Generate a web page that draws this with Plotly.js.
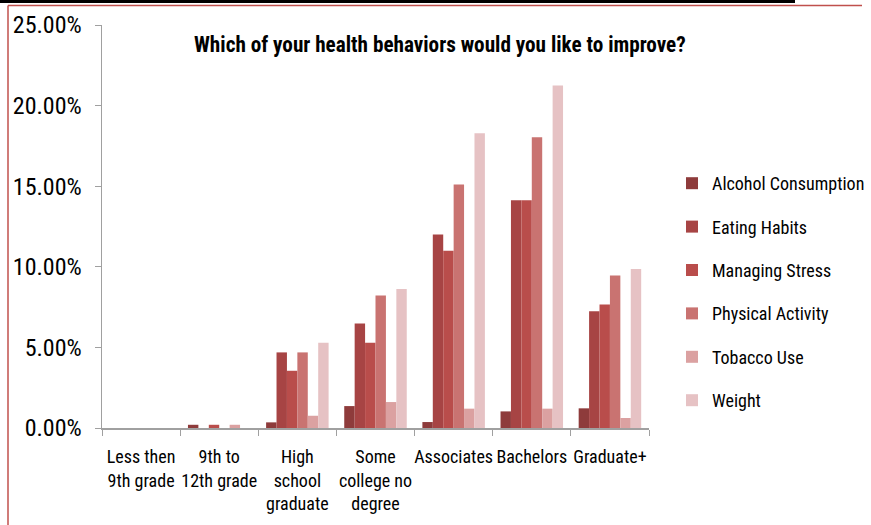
<!DOCTYPE html>
<html>
<head>
<meta charset="utf-8">
<script src="https://cdn.plot.ly/plotly-3.0.1.min.js"></script>
<style>html,body{margin:0;padding:0;background:#fff;}#chart{width:871px;height:525px;}</style>
</head>
<body>
<div id="chart"></div>
<script>
var categories = ["Less then<br>9th grade", "9th to<br>12th grade", "High<br>school<br>graduate", "Some<br>college no<br>degree", "Associates", "Bachelors", "Graduate+"];
var seriesNames = ["Alcohol Consumption", "Eating Habits", "Managing Stress", "Physical Activity", "Tobacco Use", "Weight"];
var alcohol  = [0, 0.0020, 0.0035, 0.0136, 0.0037, 0.0103, 0.0122];
var eating   = [0, 0, 0.0469, 0.0649, 0.1200, 0.1413, 0.0725];
var stress   = [0, 0.0020, 0.0355, 0.0529, 0.1100, 0.1413, 0.0766];
var physical = [0, 0, 0.0469, 0.0822, 0.1510, 0.1803, 0.0946];
var tobacco  = [0, 0.0020, 0.0076, 0.0161, 0.0120, 0.0120, 0.0062];
var weight   = [0, 0, 0.0529, 0.0863, 0.1828, 0.2125, 0.0987];
var colors = ["#8e3b3b", "#a74444", "#b94d4b", "#c97371", "#dba1a1", "#e6c2c4"];
var values = [alcohol, eating, stress, physical, tobacco, weight];

var FONT = "'Liberation Sans Narrow', 'Arial Narrow', 'Roboto Condensed', 'Liberation Sans', sans-serif";

var traces = values.map(function(v, i){
  return {
    type: "bar", x: categories, y: v, name: seriesNames[i],
    legendgroup: "g" + i,
    marker: {color: colors[i], line: {width: 0}},
    hoverinfo: "none"
  };
});

var L = 102, R = 222, T = 25, B = 97, W = 871, H = 525;
var pw = W - L - R, ph = H - T - B;
function px(x){ return (x - L) / pw; }
function py(y){ return (H - B - y) / ph; }

var layout = {
  width: W, height: H,
  margin: {l: L, r: R, t: T, b: B, pad: 0, autoexpand: false},
  paper_bgcolor: "#fff", plot_bgcolor: "#fff",
  font: {family: FONT, color: "#000", size: 18},
  title: {text: "<b>Which of your health behaviors would you like to improve?</b>",
          font: {family: FONT, size: 21.2, color: "#000"},
          x: 0.505, xref: "container", xanchor: "center",
          y: 1 - 45/525, yref: "container", yanchor: "middle"},
  barmode: "group", bargap: 0.2, bargroupgap: 0,
  showlegend: true,
  legend: {x: px(672), xanchor: "left", y: py(292), yanchor: "middle",
           font: {family: FONT, size: 18, color: "#000"},
           tracegroupgap: 17, bgcolor: "rgba(0,0,0,0)"},
  xaxis: {type: "category", tickson: "boundaries", ticks: "outside", ticklen: 6,
          tickcolor: "#a0a0a0", showline: true, linecolor: "#a0a0a0", linewidth: 1.5,
          showgrid: false, zeroline: false, tickangle: 0, ticklabelstandoff: 12,
          tickfont: {family: FONT, size: 18, color: "#000"}},
  yaxis: {range: [0, 0.25], dtick: 0.05, tick0: 0, tickformat: ".2%",
          ticks: "outside", ticklen: 6, tickcolor: "#a0a0a0",
          showline: true, linecolor: "#a0a0a0", linewidth: 1.5,
          showgrid: false, zeroline: false, ticklabelstandoff: 8,
          tickfont: {family: FONT, size: 24, color: "#000"}},
  shapes: [
    {type: "rect", xref: "paper", yref: "paper", x0: px(0), x1: px(795), y0: py(0), y1: py(3),
     fillcolor: "#000", line: {width: 0}},
    {type: "line", xref: "paper", yref: "paper", x0: px(8), x1: px(862), y0: py(5.5), y1: py(5.5),
     line: {color: "#c0504d", width: 1.5}},
    {type: "line", xref: "paper", yref: "paper", x0: px(8), x1: px(8), y0: py(5.5), y1: py(525),
     line: {color: "#c0504d", width: 1.5}}
  ]
};

Plotly.newPlot("chart", traces, layout, {staticPlot: true, displayModeBar: false});
</script>
</body>
</html>
